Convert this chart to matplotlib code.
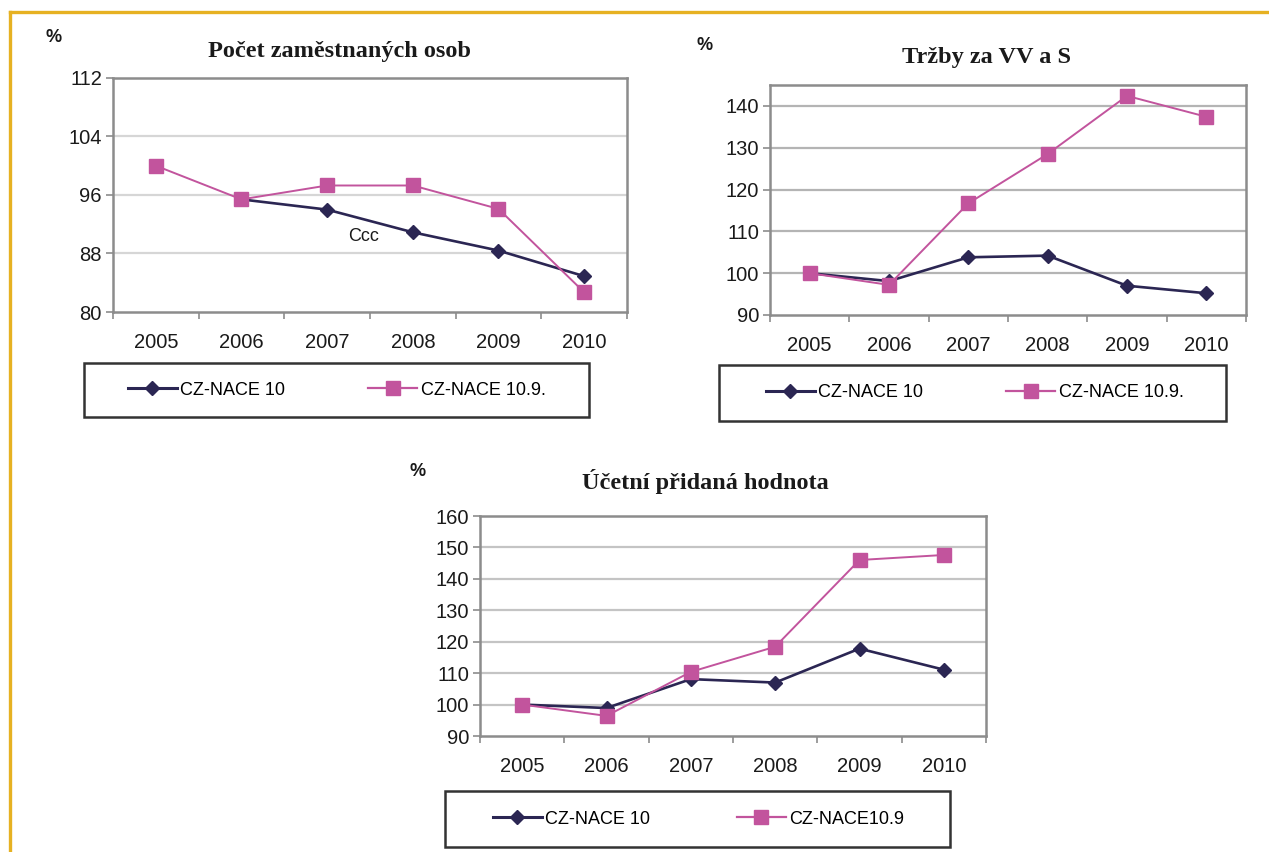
import matplotlib.pyplot as plt
from matplotlib.patches import Rectangle
from matplotlib.lines import Line2D
import numpy as np

years = ["2005", "2006", "2007", "2008", "2009", "2010"]

# Počet zaměstnaných osob (index, %)
staff_nace10 = [np.nan, 95.4, 94.0, 90.9, 88.4, 84.9]
staff_nace109 = [100.0, 95.4, 97.3, 97.3, 94.1, 82.7]

# Tržby za VV a S
sales_nace10 = [100.0, 98.1, 103.8, 104.2, 97.0, 95.2]
sales_nace109 = [100.0, 97.2, 116.7, 128.5, 142.4, 137.4]

# Účetní přidaná hodnota
value_nace10 = [100.0, 98.9, 108.1, 107.0, 117.8, 111.1]
value_nace109 = [100.0, 96.4, 110.4, 118.4, 146.0, 147.6]

W, H = 1269, 852
NAVY = "#2b2653"
PINK = "#c2549d"
SANS = "Liberation Sans"
SERIF = "Liberation Serif"

fig = plt.figure(figsize=(W / 100, H / 100), dpi=100)


def px_box(left, top, right, bottom):
    return [left / W, 1 - bottom / H, (right - left) / W, (bottom - top) / H]


def fx(x):
    return x / W


def fy(y):
    return 1 - y / H


def panel(box, s1, s2, ylim, yticks, grid_color, title, title_xy, pct_xy,
          legend_box, handle_x, labels, colspace):
    ax = fig.add_axes(px_box(*box))
    x = np.arange(len(years))
    ax.plot(x, s1, color=NAVY, lw=1.9, marker="D", ms=7.5, zorder=3)
    ax.plot(x, s2, color=PINK, lw=1.4, marker="s", ms=10, zorder=4)
    ax.set_xlim(-0.5, len(years) - 0.5)
    ax.set_ylim(*ylim)
    ax.set_yticks(yticks)
    ax.set_yticklabels([str(t) for t in yticks], fontfamily=SANS, fontsize=14.5)
    ax.set_xticks(x)
    ax.set_xticklabels(years, fontfamily=SANS, fontsize=14.5)
    ax.set_xticks(np.arange(-0.5, len(years)), minor=True)
    ax.tick_params(axis="x", which="major", length=0, pad=15, colors="#1a1a1a")
    ax.tick_params(axis="x", which="minor", length=5, width=1.2, color="#8c8c8c")
    ax.tick_params(axis="y", length=5, width=1.2, color="#8c8c8c", pad=3,
                   labelcolor="#1a1a1a")
    for t in yticks[1:-1] if yticks[-1] >= ylim[1] else yticks[1:]:
        ax.axhline(t, color=grid_color, lw=1.6, zorder=1)
    for sp in ax.spines.values():
        sp.set_color("#8c8c8c")
        sp.set_linewidth(1.8)

    fig.text(fx(title_xy[0]), fy(title_xy[1]), title, fontfamily=SERIF,
             fontweight="bold", fontsize=17.5, ha="center", va="center",
             color="#1a1a1a")
    fig.text(fx(pct_xy[0]), fy(pct_xy[1]), "%", fontfamily=SANS,
             fontweight="bold", fontsize=13, ha="center", va="center",
             color="#1a1a1a")

    l, t, r, b = legend_box
    fig.add_artist(Rectangle((fx(l), fy(b)), fx(r - l), (b - t) / H,
                             transform=fig.transFigure, fill=False,
                             edgecolor="#333333", lw=1.8))
    handles = [Line2D([], [], color=NAVY, lw=2.2, marker="D", ms=7.5),
               Line2D([], [], color=PINK, lw=1.6, marker="s", ms=10)]
    fig.legend(handles, labels, loc="center left",
               bbox_to_anchor=(fx(handle_x), fy((t + b) / 2)), ncol=2,
               frameon=False, borderpad=0, borderaxespad=0, handlelength=2.7,
               handletextpad=0.2, columnspacing=colspace,
               prop={"family": SANS, "size": 13})
    return ax


ax1 = panel((113, 78, 627, 312), staff_nace10, staff_nace109, (80, 112),
            [80, 88, 96, 104, 112], "#d6d6d6", "Počet zaměstnaných osob",
            (340, 52), (54, 38), (84, 363, 589, 417), 128,
            ["CZ-NACE 10", "CZ-NACE 10.9."], 4.6)
ax1.text(2.42, 90.3, "Ccc", fontfamily=SANS, fontsize=13, ha="center",
         va="center", color="#1a1a1a")

panel((770, 85, 1246, 315), sales_nace10, sales_nace109, (90, 145),
      [90, 100, 110, 120, 130, 140], "#b4b4b4", "Tržby za VV a S",
      (987, 57), (705, 45), (719, 365, 1226, 421), 766,
      ["CZ-NACE 10", "CZ-NACE 10.9."], 4.6)

panel((480, 516, 986, 736), value_nace10, value_nace109, (90, 160),
      [90, 100, 110, 120, 130, 140, 150, 160], "#c4c4c4",
      "Účetní přidaná hodnota", (705, 482), (418, 472),
      (445, 791, 950, 847), 493, ["CZ-NACE 10", "CZ-NACE10.9"], 4.8)

# gold frame along the top and left edges
fig.add_artist(Line2D([fx(10), 1], [fy(12), fy(12)], transform=fig.transFigure,
                      color="#e6b122", lw=2.4))
fig.add_artist(Line2D([fx(10), fx(10)], [fy(12), 0], transform=fig.transFigure,
                      color="#e6b122", lw=2.4))

fig.savefig("out.png", dpi=100, facecolor="white")
